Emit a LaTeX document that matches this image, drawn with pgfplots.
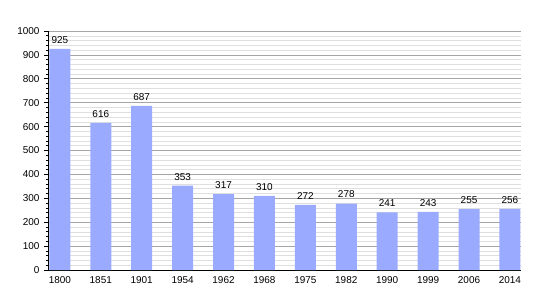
\documentclass[border=0pt]{standalone}
\usepackage{pgfplots}
\pgfplotsset{compat=1.18}
\usepackage{fontspec}
\setmainfont{Liberation Sans}
\definecolor{barc}{RGB}{153,170,255}
\begin{document}
\begin{tikzpicture}
\path[use as bounding box] (-48bp,-30bp) rectangle (502bp,270bp);
\begin{axis}[
  at={(0,0)}, anchor=south west,
  scale only axis, width=473bp, height=239bp,
  ymin=0, ymax=1000, xmin=-0.29, xmax=11.27,
  ytick={0,100,...,1000}, minor y tick num=4,
  xtick={0,...,11},
  xticklabels={1800,1851,1901,1954,1962,1968,1975,1982,1990,1999,2006,2014},
  axis x line*=bottom, axis y line*=left,
  x axis line style={-, black, line width=1pt},
  y axis line style={-, black, line width=0.8pt},
  ymajorgrids, yminorgrids,
  major grid style={gray!70, line width=0.6pt},
  minor grid style={gray!25, line width=0.5pt},
  xtick style={draw=none},
  ytick style={black, line width=0.6pt},
  tick align=outside,
  major tick length=4bp, minor tick length=2.5bp,
  minor tick style={black, line width=0.5pt},
  tick label style={font=\fontsize{10}{12}\selectfont},
  yticklabel style={xshift=-1bp},
  xticklabel style={yshift=1bp},
  /pgf/number format/assume math mode=true,
  /pgf/number format/1000 sep={},
  nodes near coords,
  every node near coord/.append style={font=\fontsize{10}{12}\selectfont, black, yshift=2bp},
  clip=false,
]
\addplot[ybar, bar width=21bp, fill=barc, draw=none] coordinates {
(0,925) (1,616) (2,687) (3,353) (4,317) (5,310) (6,272) (7,278) (8,241) (9,243) (10,255) (11,256)
};
\end{axis}
\end{tikzpicture}
\end{document}
